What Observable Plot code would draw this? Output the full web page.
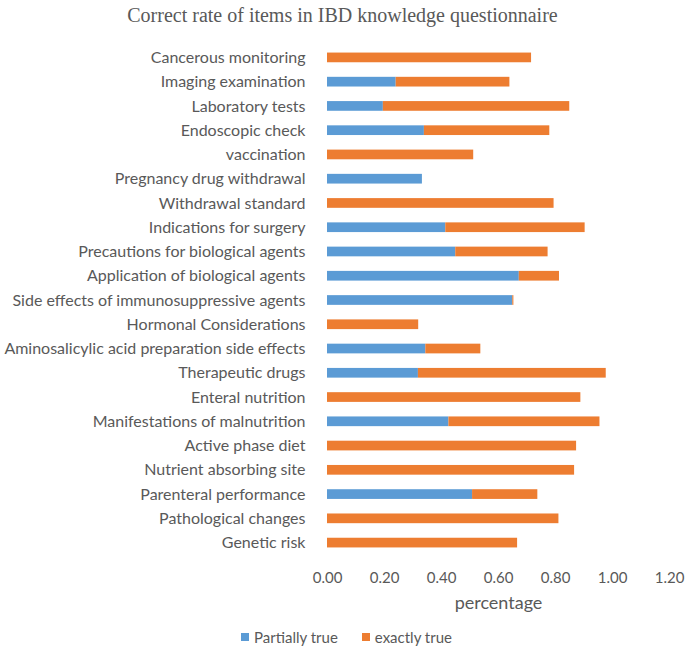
<!DOCTYPE html>
<html><head><meta charset="utf-8">
<script src="https://cdn.jsdelivr.net/npm/d3@7"></script>
<script src="https://cdn.jsdelivr.net/npm/@observablehq/plot@0.6"></script>
<style>
body{margin:0;background:#fff;}
#title{height:30px;line-height:30px;text-align:center;font-family:"Liberation Serif",serif;font-size:20px;color:#595959;}
#chart{height:592px;}
#chart svg{display:block;}
#legend{display:flex;justify-content:center;align-items:center;height:30px;font-family:Lato,sans-serif;font-size:15px;color:#595959;padding-left:8px;}
.sw{display:inline-block;width:8px;height:8px;margin-right:5px;}
.it{display:flex;align-items:center;margin:0 12px;}
</style></head><body>
<div id="title">Correct rate of items in IBD knowledge questionnaire</div>
<div id="chart"></div>
<div id="legend"></div>
<script>
const categories = ["Cancerous monitoring","Imaging examination","Laboratory tests","Endoscopic check","vaccination","Pregnancy drug withdrawal","Withdrawal standard","Indications for surgery","Precautions for biological agents","Application of biological agents","Side effects of immunosuppressive agents","Hormonal Considerations","Aminosalicylic acid preparation side effects","Therapeutic drugs","Enteral nutrition","Manifestations of malnutrition","Active phase diet","Nutrient absorbing site","Parenteral performance","Pathological changes","Genetic risk"];
const partiallyTrue = [0,0.241,0.196,0.340,0,0.333,0,0.415,0.450,0.673,0.650,0,0.345,0.319,0,0.426,0,0,0.509,0,0];
const exactlyTrue = [0.716,0.399,0.654,0.440,0.513,0,0.795,0.489,0.324,0.141,0.004,0.320,0.193,0.659,0.889,0.530,0.874,0.867,0.229,0.812,0.667];
const seriesNames = ["Partially true","exactly true"];
const seriesColors = ["#5B9BD5","#ED7D31"];
const xTicks = [0,0.2,0.4,0.6,0.8,1.0,1.2];

const rows = [
  ...categories.map((c,i)=>({item:c,type:seriesNames[0],value:partiallyTrue[i]})),
  ...categories.map((c,i)=>({item:c,type:seriesNames[1],value:exactlyTrue[i]}))
];

const chart = Plot.plot({
  width:685, height:592,
  marginLeft:327, marginRight:16, marginTop:8, marginBottom:60,
  style:{fontFamily:"Lato, sans-serif", fontSize:"15px", color:"#595959", background:"#fff"},
  x:{domain:[0,1.2]},
  y:{domain:categories, padding:0.6, round:false},
  color:{domain:seriesNames, range:seriesColors},
  marks:[
    Plot.barX(rows,{x:"value",y:"item",fill:"type"}),
    Plot.axisY({tickSize:0,tickPadding:22,label:null,fontSize:16}),
    Plot.axisX({tickSize:0,tickPadding:10,ticks:xTicks,tickFormat:d3.format(".2f"),fontSize:15,label:null}),
    Plot.axisX({ticks:[],tickSize:0,fontSize:18,label:"percentage",labelAnchor:"center",labelArrow:"none",labelOffset:46})
  ]
});
document.getElementById("chart").appendChild(chart);
const lg = document.getElementById("legend");
seriesNames.forEach((n,i)=>{
  const d=document.createElement("span");d.className="it";
  d.innerHTML=`<span class="sw" style="background:${seriesColors[i]}"></span>${n}`;
  lg.appendChild(d);
});
</script></body></html>
